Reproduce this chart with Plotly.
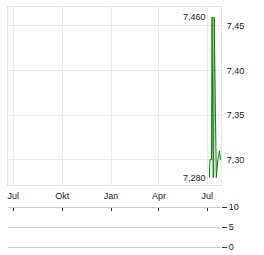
import plotly.graph_objects as go

# Data
dates = ["2025-07-05", "2025-07-06", "2025-07-09", "2025-07-10", "2025-07-12", "2025-07-13",
         "2025-07-14", "2025-07-17", "2025-07-18", "2025-07-21", "2025-07-23", "2025-07-24",
         "2025-07-26"]
prices = [7.28, 7.30, 7.30, 7.46, 7.28, 7.28,
          7.46, 7.28, 7.28, 7.30, 7.31, 7.31,
          7.30]
x_tick_vals = ["2024-07-01", "2024-10-01", "2025-01-01", "2025-04-01", "2025-07-01"]
x_tick_text = ["Jul", "Okt", "Jan", "Apr", "Jul"]
y_tick_vals = [7.30, 7.35, 7.40, 7.45]
vol_tick_vals = [0, 5, 10]

x_range = ["2024-06-21", "2025-07-26 20:00"]
font = dict(family="Liberation Sans, Arial, sans-serif", size=9, color="#222222")

fig = go.Figure()
fig.add_trace(go.Scatter(x=dates, y=prices, mode="lines",
                         line=dict(color="#0b7a0b", width=1), xaxis="x", yaxis="y",
                         hoverinfo="skip", showlegend=False))
fig.add_trace(go.Scatter(x=[dates[0]], y=[0], mode="markers", marker=dict(opacity=0),
                         xaxis="x2", yaxis="y2", hoverinfo="skip", showlegend=False))

def fmt(v):
    return f"{v:.3f}".replace(".", ",")

imax = prices.index(max(prices))
imin = prices.index(min(prices))

annotations = [
    dict(x=dates[imax], y=prices[imax], xref="x", yref="y", text=fmt(prices[imax]),
         showarrow=False, xanchor="right", yanchor="middle", xshift=-4, font=font),
    dict(x=dates[imin], y=prices[imin], xref="x", yref="y", text=fmt(prices[imin]),
         showarrow=False, xanchor="right", yanchor="middle", xshift=-1, font=font),
]

H = 255
top, bot = 7, 2
ph = H - top - bot
base = H - bot
main_dom = [(base - 185.3) / ph, 1.0]
vol_dom = [(base - 250.97) / ph, (base - 203.33) / ph]

fig.update_layout(
    width=264, height=255,
    margin=dict(l=8, r=43, t=top, b=bot),
    paper_bgcolor="white", plot_bgcolor="white",
    separators=",.",
    font=font,
    annotations=annotations,
    xaxis=dict(domain=[0, 1], range=x_range, type="date", anchor="y",
               tickvals=x_tick_vals, ticktext=x_tick_text, showgrid=True,
               gridcolor="#ebebeb", gridwidth=1, showline=True, mirror=True,
               linecolor="#e6e6e6", linewidth=1, ticks="outside", ticklen=2,
               tickcolor="rgba(0,0,0,0)", zeroline=False, tickfont=font),
    yaxis=dict(domain=main_dom, range=[7.2713, 7.4713], side="right", anchor="x",
               tickvals=y_tick_vals, tickformat=".2f", showgrid=True,
               gridcolor="#ebebeb", gridwidth=1, showline=True, mirror=True,
               linecolor="#e6e6e6", linewidth=1, ticks="outside", ticklen=3,
               tickcolor="rgba(0,0,0,0)", zeroline=False, tickfont=font),
    xaxis2=dict(domain=[0, 1], range=x_range, type="date", anchor="free",
                position=(base - 207.3) / ph,
                matches="x", side="top", tickvals=x_tick_vals, showticklabels=False,
                ticks="inside", ticklen=3, tickcolor="#333333", showgrid=False,
                showline=False, zeroline=False),
    yaxis2=dict(domain=vol_dom, range=[-1, 11], side="right", anchor="x2",
                tickvals=vol_tick_vals, showgrid=True, gridcolor="#cccccc",
                gridwidth=1, ticks="outside", ticklen=5, tickcolor="#333333",
                showline=False, zeroline=False, tickfont=font),
)

fig.write_html("out.html")
